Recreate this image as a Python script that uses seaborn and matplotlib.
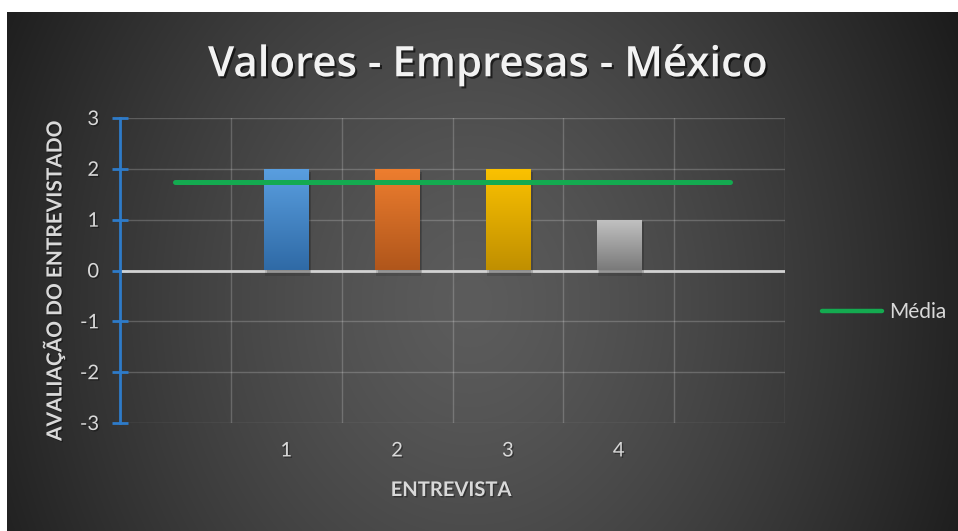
import numpy as np
import pandas as pd
import matplotlib
matplotlib.use("Agg")
import matplotlib.pyplot as plt
import matplotlib.patheffects as pe
from matplotlib.colors import to_rgb
import seaborn as sns

# Data: six category slots, interviews 1-4 in the middle, empty slots at each end
categorias = ["", "1", "2", "3", "4", ""]
avaliacao = [np.nan, 2, 2, 2, 1, np.nan]
media = [1.75, 1.75, 1.75, 1.75, 1.75, 1.75]
serie_media = "Média"

titulo = "Valores - Empresas - México"
rotulo_x = "ENTREVISTA"
rotulo_y = "AVALIAÇÃO DO ENTREVISTADO"
ticks_y = [-3, -2, -1, 0, 1, 2, 3]

# bar fills: (top colour, bottom colour) per interview
gradientes = {
    "1": ("#5a9fe0", "#2f6aa6"),
    "2": ("#ee7e2f", "#b0561b"),
    "3": ("#fbc200", "#c08f00"),
    "4": ("#c2c2c2", "#7a7a7a"),
}

sns.set_style("dark")
plt.rcParams["font.family"] = ["Lato", "DejaVu Sans"]
plt.rcParams["axes.unicode_minus"] = False

W, H = 958, 531
fig = plt.figure(figsize=(W / 100, H / 100), dpi=100)
fig.patch.set_facecolor("white")

# dark radial backdrop
bg = fig.add_axes([7 / W, 0, (W - 7) / W, (H - 12) / H])
bg.axis("off")
bh, bw = H - 12, W - 7
yy, xx = np.mgrid[0:bh, 0:bw]
r = np.sqrt(((xx - 463) / 500.0) ** 2 + ((yy - 290) / 600.0) ** 2)
v = (92 - 58 * np.clip(r, 0, 1.1) ** 1.3) / 255.0
bg.imshow(np.dstack([v, v, v]), aspect="auto", extent=[0, 1, 0, 1], origin="upper")
bg.set_xlim(0, 1)
bg.set_ylim(0, 1)

ax = fig.add_axes([120 / W, 1 - 423 / H, 665 / W, 305 / H])
ax.set_facecolor("none")

df = pd.DataFrame({"pos": range(len(categorias)), "cat": categorias, "avaliacao": avaliacao}).dropna()
sns.barplot(data=df, x="pos", y="avaliacao", hue="cat", order=list(range(len(categorias))),
            palette={k: v[0] for k, v in gradientes.items()}, width=0.4, legend=False,
            ax=ax, zorder=3)

# repaint every bar with a vertical gradient clipped to its rectangle
for patch, cat in zip(ax.patches, df["cat"]):
    top, bot = (np.array(to_rgb(c)) for c in gradientes[cat])
    t = np.linspace(0, 1, 128)[:, None]
    grad = (bot * (1 - t) + top * t)[:, None, :]
    x0, y0 = patch.get_x(), patch.get_y()
    w, h = patch.get_width(), patch.get_height()
    patch.set_facecolor("none")
    patch.set_edgecolor("none")
    patch.set_path_effects([
        pe.SimplePatchShadow(offset=(1, -4), shadow_rgbFace="black", alpha=0.12),
        pe.SimplePatchShadow(offset=(2, -2), shadow_rgbFace="black", alpha=0.18),
    ])
    im = ax.imshow(grad, extent=[x0, x0 + w, y0, y0 + h], origin="lower",
                   aspect="auto", zorder=3.1, interpolation="bilinear")
    im.set_clip_path(patch)

sns.lineplot(x=list(range(len(categorias))), y=media, ax=ax, color="#14aa50",
             linewidth=3.6, zorder=5, label=serie_media, legend=False)
linha = ax.get_lines()[-1]
linha.set_solid_capstyle("round")

ax.axhline(0, color="#d2d2d2", linewidth=2, zorder=2)

ax.set_xlim(-0.5, len(categorias) - 0.5)
ax.set_ylim(-3, 3)
ax.set_yticks(ticks_y)
ax.set_xticks(range(len(categorias)))
ax.set_xticklabels(categorias)
ax.set_xticks(np.arange(-0.5, len(categorias), 1), minor=True)
ax.set_xlabel("")
ax.set_ylabel("")

ax.grid(False)
ax.grid(which="minor", axis="x", color="white", alpha=0.2, linewidth=1)
ax.grid(which="major", axis="y", color="white", alpha=0.2, linewidth=1)
ax.set_axisbelow(True)

for s in ["top", "right", "bottom"]:
    ax.spines[s].set_visible(False)
ax.spines["left"].set_color("#2e7bc9")
ax.spines["left"].set_linewidth(2)
ax.spines["left"].set_zorder(6)

ax.tick_params(axis="x", which="both", length=0, pad=14, labelsize=14.5, labelcolor="#d9d9d9")
ax.tick_params(axis="y", which="major", direction="inout", length=12, width=2,
               color="#2e7bc9", pad=9, labelsize=14.5, labelcolor="#d9d9d9", left=True)

sombra = [pe.withSimplePatchShadow(offset=(1.5, -1.5), shadow_rgbFace="black", alpha=0.6)]
sombra_leve = [pe.withSimplePatchShadow(offset=(1, -1), shadow_rgbFace="black", alpha=0.35)]
for lab in ax.get_xticklabels() + ax.get_yticklabels():
    lab.set_path_effects(sombra_leve)

tt = fig.text(488 / W, 1 - 65 / H, titulo, ha="center", va="center", color="#f2f2f2",
              fontsize=30, fontweight="semibold", family=["Open Sans", "DejaVu Sans"],
              path_effects=sombra)
fig.canvas.draw()
larg = tt.get_window_extent().width
tt.set_fontsize(30 * 559 / larg)

fig.text(451 / W, 1 - 490 / H, rotulo_x, ha="center", va="center", color="#d9d9d9",
         fontsize=14.5, fontweight="bold", path_effects=sombra_leve)
fig.text(54 / W, 1 - 281 / H, rotulo_y, ha="center", va="center", rotation=90,
         color="#d9d9d9", fontsize=15, fontweight="bold", path_effects=sombra_leve)

leg = ax.legend(handles=[linha], labels=[serie_media], loc="center left",
                bbox_to_anchor=(822 / W, 1 - 312 / H), bbox_transform=fig.transFigure,
                frameon=False, handlelength=2.9, handletextpad=0.3, borderpad=0,
                borderaxespad=0, fontsize=15, labelcolor="#d9d9d9")
leg.get_lines()[0].set_linewidth(3.2)

fig.savefig("out.png", dpi=100)
